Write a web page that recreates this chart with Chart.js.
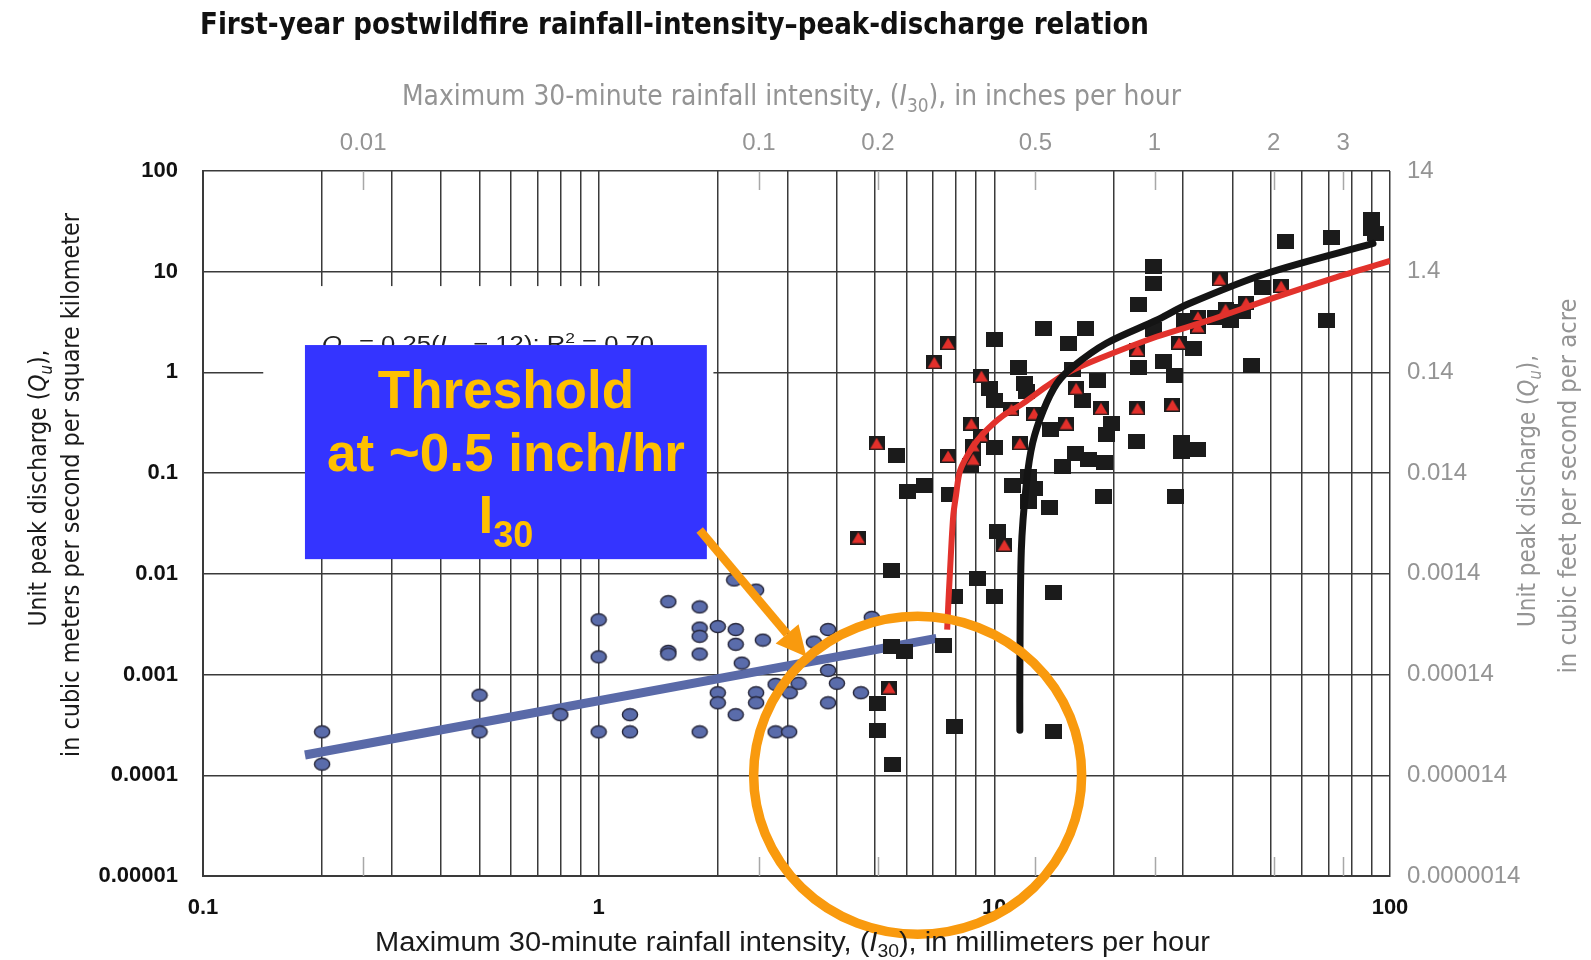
<!DOCTYPE html>
<html lang="en">
<head>
<meta charset="UTF-8">
<title>First-year postwildfire rainfall-intensity–peak-discharge relation</title>
<script src="https://cdn.jsdelivr.net/npm/chart.js"></script>
<style>
  html, body { margin: 0; padding: 0; background: #fff; }
  #wrap { width: 1591px; height: 960px; position: relative; }
</style>
</head>
<body>
<div id="wrap"><canvas id="chart"></canvas></div>
<script>
// ---- axis ticks and labels ----
const MM_PER_INCH = 25.4;
const BOTTOM_TICKS = [0.1, 1, 10, 100];
const BOTTOM_LABELS = ['0.1', '1', '10', '100'];
const LEFT_TICKS = [0.00001, 0.0001, 0.001, 0.01, 0.1, 1, 10, 100];
const LEFT_LABELS = ['0.00001', '0.0001', '0.001', '0.01', '0.1', '1', '10', '100'];
const TOP_TICKS = [0.01, 0.1, 0.2, 0.5, 1, 2, 3];           // inches per hour
const TOP_LABELS = ['0.01', '0.1', '0.2', '0.5', '1', '2', '3'];
const RIGHT_TICKS = [0.0000014, 0.000014, 0.00014, 0.0014, 0.014, 0.14, 1.4, 14];
const RIGHT_LABELS = ['0.0000014', '0.000014', '0.00014', '0.0014', '0.014', '0.14', '1.4', '14'];

// ---- series: [I30 mm/hr, Qu m3/s/km2] ----
const circlePoints = [
  [0.2, 0.00027], [0.2, 0.000129], [0.5, 0.000625], [0.5, 0.00027], [0.8, 0.0004],
  [1.0, 0.0035], [1.0, 0.0015], [1.0, 0.00027], [1.2, 0.0004], [1.2, 0.00027],
  [1.5, 0.0053], [1.5, 0.0017], [1.5, 0.0016],
  [1.8, 0.0047], [1.8, 0.0029], [1.8, 0.0024], [1.8, 0.0016], [1.8, 0.00027],
  [2.0, 0.003], [2.0, 0.00066], [2.0, 0.000525],
  [2.2, 0.0087], [2.22, 0.0028], [2.22, 0.002], [2.22, 0.0004], [2.3, 0.0013],
  [2.5, 0.0069], [2.5, 0.00066], [2.5, 0.000525], [2.6, 0.0022],
  [2.8, 0.0008], [2.8, 0.00027], [3.03, 0.00027], [3.04, 0.00066], [3.2, 0.00082],
  [3.5, 0.0021], [3.8, 0.0028], [3.8, 0.0011], [3.8, 0.000525], [4.0, 0.00082],
  [4.6, 0.00066], [4.9, 0.0037]
];
const squarePoints = [
  [25.2, 11.2], [25.2, 7.67], [23.1, 4.78], [13.3, 2.7], [17.0, 2.7], [15.4, 1.95],
  [10.0, 2.1], [25.2, 2.64], [30.3, 3.3], [11.5, 1.11], [15.8, 1.08], [23.2, 1.11],
  [18.2, 0.84], [26.8, 1.28], [28.6, 0.93], [9.7, 0.695], [11.9, 0.78], [12.05, 0.64],
  [10.0, 0.53], [16.7, 0.53], [19.8, 0.31], [19.2, 0.24], [13.9, 0.27], [22.9, 0.205],
  [10.0, 0.179], [29.7, 0.2], [29.7, 0.163], [16.0, 0.157], [17.3, 0.137], [19.0, 0.127],
  [14.9, 0.117], [5.66, 0.148], [8.7, 0.12], [6.67, 0.076], [6.02, 0.065], [7.69, 0.061],
  [11.1, 0.076], [12.2, 0.092], [12.6, 0.071], [12.2, 0.052], [13.8, 0.046], [18.9, 0.058],
  [28.7, 0.058], [10.2, 0.0266], [5.5, 0.0109], [9.05, 0.009], [7.95, 0.006], [10.0, 0.006],
  [14.1, 0.0066], [5.5, 0.00192], [5.94, 0.00169], [7.42, 0.00196], [5.06, 0.000518],
  [5.06, 0.000277], [5.52, 0.000128], [7.95, 0.000303], [14.1, 0.000275],
  [89.7, 33], [89.7, 27], [92, 24], [54.5, 19.9], [71.1, 21.9], [69, 3.26],
  [36.3, 3.55], [39.5, 3.3], [42.5, 4.0], [47.6, 7.0], [30.5, 3.3], [31.8, 1.73],
  [44.6, 1.16], [32.7, 0.172]
];
const trianglePoints = [
  [7.64, 1.95], [7.05, 1.26], [9.28, 0.92], [11.05, 0.43], [12.6, 0.39], [16.1, 0.695],
  [18.6, 0.44], [23.0, 1.67], [23.0, 0.44], [28.2, 0.475], [29.3, 1.97], [15.2, 0.31],
  [8.75, 0.31], [9.28, 0.235], [8.84, 0.187], [8.84, 0.137], [11.6, 0.198], [5.04, 0.198],
  [7.64, 0.148], [4.53, 0.0229], [10.6, 0.0193], [5.42, 0.00074], [37.1, 8.4], [53.1, 7.2],
  [43.3, 4.92], [38.4, 4.23], [32.7, 3.57], [32.7, 2.84]
];
const blueFit = [[0.181, 0.000159], [7.14, 0.00229]];
const redCurve = [
  [7.6, 0.0028], [7.65, 0.005], [7.72, 0.01], [7.87, 0.037], [8.0, 0.06], [8.2, 0.107],
  [8.8, 0.18], [9.4, 0.25], [10.5, 0.37], [11.8, 0.49], [13.5, 0.72], [15.2, 0.98],
  [18.5, 1.38], [25.7, 2.26], [35, 3.3], [48.7, 5.2], [71.7, 8.6], [100, 12.8]
];
const blackCurve = [
  [11.6, 0.00028], [11.6, 0.001], [11.7, 0.017], [12.05, 0.079], [12.5, 0.2], [13.3, 0.42],
  [14.4, 0.78], [15.8, 1.14], [19.2, 1.95], [25.7, 3.3], [31, 4.8], [48.7, 9.6], [90.6, 19.1]
];

const NARROW = '"Liberation Sans Narrow", "DejaVu Sans Condensed", "Arial Narrow", sans-serif';
const SANS = '"Liberation Sans", Arial, Helvetica, sans-serif';
const GRID = '#3a3a3a';
const GREY_TEXT = '#949494';
const ORANGE = '#f99a0e';

const toXY = arr => arr.map(p => ({ x: p[0], y: p[1] }));
const labelFor = (v, ticks, labels) => {
  const i = ticks.findIndex(t => Math.abs(Math.log10(t) - Math.log10(v)) < 1e-6);
  return i < 0 ? '' : labels[i];
};
const xGrid = [];
for (let e = -1; e <= 1; e++) for (let m = 1; m <= 9; m++) xGrid.push(m * Math.pow(10, e));
xGrid.push(100);

// marker images
function ellipseMarker() {
  const c = document.createElement('canvas');
  c.width = 18; c.height = 15;
  const g = c.getContext('2d');
  g.beginPath();
  g.ellipse(9, 7.5, 7.6, 6, 0, 0, Math.PI * 2);
  g.fillStyle = '#5a6cab';
  g.fill();
  g.lineWidth = 1.4;
  g.strokeStyle = '#26263a';
  g.stroke();
  return c;
}
function squareMarker() {
  const c = document.createElement('canvas');
  c.width = 17; c.height = 15;
  const g = c.getContext('2d');
  g.fillStyle = '#1b1b1b';
  g.fillRect(0, 0, 17, 15);
  return c;
}
function triangleMarker() {
  const c = document.createElement('canvas');
  c.width = 16; c.height = 14;
  const g = c.getContext('2d');
  g.fillStyle = '#1b1b1b';
  g.fillRect(0, 0, 16, 14);
  g.beginPath();
  g.moveTo(8, 1.5); g.lineTo(14.5, 12.5); g.lineTo(1.5, 12.5); g.closePath();
  g.fillStyle = '#e3302b';
  g.fill();
  return c;
}

// text with italic / sub / sup pieces, squeezed to a given width
function richText(ctx, segs, o) {
  const fontOf = s => `${s.italic ? 'italic ' : ''}${o.weight || 'normal'} ${(s.sub || s.sup) ? Math.round(o.size * 0.68) : o.size}px ${o.family}`;
  let total = 0;
  segs.forEach(s => { ctx.font = fontOf(s); s.w = ctx.measureText(s.t).width; total += s.w; });
  ctx.save();
  ctx.translate(o.x, o.y);
  if (o.rotate) ctx.rotate(o.rotate);
  ctx.scale(o.width ? o.width / total : 1, 1);
  ctx.fillStyle = o.color;
  ctx.textAlign = 'left';
  ctx.textBaseline = 'alphabetic';
  let x = o.align === 'left' ? 0 : -total / 2;
  segs.forEach(s => {
    ctx.font = fontOf(s);
    const dy = s.sub ? o.size * 0.25 : s.sup ? -o.size * 0.38 : 0;
    ctx.fillText(s.t, x, o.size * 0.36 + dy);
    x += s.w;
  });
  ctx.restore();
}

// annotation placement (in data units of the main axes)
const ANNOT = {
  whiteBox: { x0: 0.142, x1: 1.95, y0: 7.2, y1: 0.34 },
  equationAt: { x: 0.2, y: 1.95 },
  blueBox: { x0: 0.181, x1: 1.877, y0: 1.87, y1: 0.014 },
  arrowFrom: { x: 1.8, y: 0.0272 },
  arrowTo: { x: 3.35, y: 0.0015 },
  circleAt: { x: 6.4, y: 0.0001 }
};

const decorations = {
  id: 'decorations',
  beforeDatasetsDraw(chart) {
    const { ctx, scales: { x, y, x2 }, chartArea: a } = chart;
    // short inch ticks along the top and bottom edges
    ctx.save();
    ctx.strokeStyle = '#a8a8a8';
    ctx.lineWidth = 1.5;
    TOP_TICKS.forEach(v => {
      const px = Math.round(x2.getPixelForValue(v)) + 0.5;
      ctx.beginPath();
      ctx.moveTo(px, a.top); ctx.lineTo(px, a.top + 19);
      ctx.moveTo(px, a.bottom); ctx.lineTo(px, a.bottom - 19);
      ctx.stroke();
    });
    // white backing of the regression label
    const w = ANNOT.whiteBox;
    const wx0 = x.getPixelForValue(w.x0), wx1 = x.getPixelForValue(w.x1);
    const wy0 = y.getPixelForValue(w.y0), wy1 = y.getPixelForValue(w.y1);
    ctx.fillStyle = '#fff';
    ctx.fillRect(wx0, wy0, wx1 - wx0, wy1 - wy0);
    ctx.restore();
    richText(ctx, [
      { t: 'Q', italic: true }, { t: 'u', sub: true, italic: true }, { t: ' = 0.25(' },
      { t: 'I', italic: true }, { t: '30', sub: true }, { t: ' \u2212 12); R' },
      { t: '2', sup: true }, { t: ' = 0.70' }
    ], { x: x.getPixelForValue(ANNOT.equationAt.x), y: y.getPixelForValue(ANNOT.equationAt.y),
         width: 332, size: 22, family: SANS, color: '#222', align: 'left' });
  },
  afterDatasetsDraw(chart) {
    const { ctx, scales: { x, y } } = chart;
    ctx.save();
    // blue call-out box
    const b = ANNOT.blueBox;
    const bx0 = x.getPixelForValue(b.x0), bx1 = x.getPixelForValue(b.x1);
    const by0 = y.getPixelForValue(b.y0), by1 = y.getPixelForValue(b.y1);
    ctx.fillStyle = '#3434ff';
    ctx.fillRect(bx0, by0, bx1 - bx0, by1 - by0);
    ctx.fillStyle = '#ffc000';
    ctx.textAlign = 'center';
    ctx.textBaseline = 'alphabetic';
    ctx.font = `bold 53px ${SANS}`;
    ctx.fillText('Threshold', bx0 + 201, by0 + 63);
    ctx.fillText('at ~0.5 inch/hr', bx0 + 201, by0 + 126);
    ctx.textAlign = 'left';
    const iw = ctx.measureText('I').width;
    ctx.font = `bold 36px ${SANS}`;
    const sw = ctx.measureText('30').width;
    const sx = bx0 + 201 - (iw + sw) / 2;
    ctx.font = `bold 53px ${SANS}`;
    ctx.fillText('I', sx, by0 + 188);
    ctx.font = `bold 36px ${SANS}`;
    ctx.fillText('30', sx + iw, by0 + 202);

    // orange arrow
    const fx = x.getPixelForValue(ANNOT.arrowFrom.x), fy = y.getPixelForValue(ANNOT.arrowFrom.y);
    const tx = x.getPixelForValue(ANNOT.arrowTo.x), ty = y.getPixelForValue(ANNOT.arrowTo.y);
    const ang = Math.atan2(ty - fy, tx - fx);
    const headLen = 30, headHalf = 15;
    const hx = tx - Math.cos(ang) * headLen, hy = ty - Math.sin(ang) * headLen;
    ctx.strokeStyle = ORANGE;
    ctx.fillStyle = ORANGE;
    ctx.lineWidth = 8.5;
    ctx.beginPath();
    ctx.moveTo(fx, fy); ctx.lineTo(hx, hy);
    ctx.stroke();
    ctx.beginPath();
    ctx.moveTo(tx, ty);
    ctx.lineTo(hx + Math.sin(ang) * headHalf, hy - Math.cos(ang) * headHalf);
    ctx.lineTo(hx - Math.sin(ang) * headHalf, hy + Math.cos(ang) * headHalf);
    ctx.closePath();
    ctx.fill();

    // orange circle
    const cx = x.getPixelForValue(ANNOT.circleAt.x), cy = y.getPixelForValue(ANNOT.circleAt.y);
    ctx.lineWidth = 9.5;
    ctx.beginPath();
    ctx.ellipse(cx, cy, 164, 159, 0, 0, Math.PI * 2);
    ctx.stroke();
    ctx.restore();
  },
  afterDraw(chart) {
    const ctx = chart.ctx;
    richText(ctx, [{ t: 'First-year postwildfire rainfall-intensity\u2013peak-discharge relation' }],
      { x: 674.5, y: 23, width: 949, size: 30, weight: 'bold', family: NARROW, color: '#111' });
    richText(ctx, [{ t: 'Maximum 30-minute rainfall intensity, (' }, { t: 'I', italic: true },
      { t: '30', sub: true }, { t: '), in inches per hour' }],
      { x: 791.5, y: 95, width: 779, size: 28, family: NARROW, color: GREY_TEXT });
    richText(ctx, [{ t: 'Maximum 30-minute rainfall intensity, (' }, { t: 'I', italic: true },
      { t: '30', sub: true }, { t: '), in millimeters per hour' }],
      { x: 792.5, y: 941, width: 835, size: 27, family: SANS, color: '#1a1a1a' });
    const qSegs = [{ t: 'Unit peak discharge (' }, { t: 'Q', italic: true },
      { t: 'u', sub: true, italic: true }, { t: '),' }];
    richText(ctx, qSegs, { x: 37, y: 488, width: 277, size: 25, family: NARROW, color: '#1a1a1a', rotate: -Math.PI / 2 });
    richText(ctx, [{ t: 'in cubic meters per second per square kilometer' }],
      { x: 70, y: 485, width: 544, size: 25, family: NARROW, color: '#1a1a1a', rotate: -Math.PI / 2 });
    richText(ctx, qSegs, { x: 1526, y: 491, width: 272, size: 25, family: NARROW, color: GREY_TEXT, rotate: -Math.PI / 2 });
    richText(ctx, [{ t: 'in cubic feet per second per acre' }],
      { x: 1567, y: 486, width: 375, size: 25, family: NARROW, color: GREY_TEXT, rotate: -Math.PI / 2 });
  }
};

const ctx = document.getElementById('chart').getContext('2d');
new Chart(ctx, {
  type: 'scatter',
  data: {
    datasets: [
      { label: 'Unburned fit', data: toXY(blueFit), showLine: true, borderColor: '#5a6aa8',
        borderWidth: 9, pointRadius: 0, order: 6 },
      { label: 'Unburned', data: toXY(circlePoints), pointStyle: ellipseMarker(), pointRadius: 7, order: 5 },
      { label: 'Burned', data: toXY(squarePoints), pointStyle: squareMarker(), pointRadius: 7, order: 4 },
      { label: 'Burned, other', data: toXY(trianglePoints), pointStyle: triangleMarker(), pointRadius: 7, order: 3 },
      { label: 'Red threshold curve', data: toXY(redCurve), showLine: true, borderColor: '#e2322c',
        borderWidth: 6, pointRadius: 0, tension: 0.3, borderJoinStyle: 'round', order: 2 },
      { label: 'Black threshold curve', data: toXY(blackCurve), showLine: true, borderColor: '#141414',
        borderWidth: 7, pointRadius: 0, tension: 0.3, borderJoinStyle: 'round', borderCapStyle: 'round', order: 1 }
    ]
  },
  options: {
    responsive: true,
    maintainAspectRatio: false,
    animation: false,
    devicePixelRatio: 1,
    layout: { padding: 0 },
    plugins: { legend: { display: false }, tooltip: { enabled: false }, title: { display: false } },
    scales: {
      x: {
        type: 'logarithmic', position: 'bottom', min: 0.1, max: 100,
        afterBuildTicks: s => { s.ticks = xGrid.map(v => ({ value: v })); },
        afterFit: s => { s.height = 84; },
        ticks: { autoSkip: false, maxRotation: 0, padding: 19, color: '#111',
          font: { family: SANS, size: 22, weight: 'bold' },
          callback: v => labelFor(v, BOTTOM_TICKS, BOTTOM_LABELS) },
        grid: { color: GRID, lineWidth: 1.5, drawTicks: false },
        border: { color: GRID, width: 2 }
      },
      y: {
        type: 'logarithmic', position: 'left', min: 0.00001, max: 100,
        afterBuildTicks: s => { s.ticks = LEFT_TICKS.map(v => ({ value: v })); },
        afterFit: s => { s.width = 203; },
        ticks: { autoSkip: false, padding: 25, color: '#111',
          font: { family: SANS, size: 22, weight: 'bold' },
          callback: v => labelFor(v, LEFT_TICKS, LEFT_LABELS) },
        grid: { color: GRID, lineWidth: 1.5, drawTicks: false },
        border: { color: GRID, width: 2 }
      },
      x2: {
        type: 'logarithmic', position: 'top',
        min: 0.1 / MM_PER_INCH, max: 100 / MM_PER_INCH,
        afterBuildTicks: s => { s.ticks = TOP_TICKS.map(v => ({ value: v })); },
        afterFit: s => { s.height = 171; },
        ticks: { autoSkip: false, maxRotation: 0, padding: 13, color: GREY_TEXT,
          font: { family: SANS, size: 24 },
          callback: v => labelFor(v, TOP_TICKS, TOP_LABELS) },
        grid: { display: false, drawTicks: false },
        border: { display: false }
      },
      y2: {
        type: 'logarithmic', position: 'right',
        min: RIGHT_TICKS[0], max: RIGHT_TICKS[RIGHT_TICKS.length - 1],
        afterBuildTicks: s => { s.ticks = RIGHT_TICKS.map(v => ({ value: v })); },
        afterFit: s => { s.width = 201; },
        ticks: { autoSkip: false, padding: 17, color: GREY_TEXT,
          font: { family: SANS, size: 24 },
          callback: v => labelFor(v, RIGHT_TICKS, RIGHT_LABELS) },
        grid: { display: false, drawTicks: false },
        border: { display: false }
      }
    }
  },
  plugins: [decorations]
});
</script>
</body>
</html>
